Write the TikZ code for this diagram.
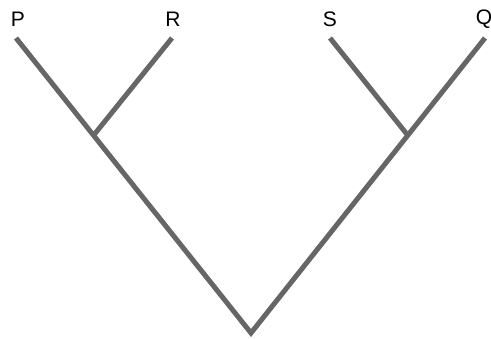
\documentclass[tikz,border=0pt]{standalone}
\usepackage{fontspec}
\setmainfont{Liberation Sans}
\usetikzlibrary{calc}
\begin{document}
\begin{tikzpicture}[x=1pt,y=-1pt,
  branch/.style={draw=black!60, line width=5pt, line cap=butt, line join=miter},
  lbl/.style={font=\fontsize{21}{21}\selectfont, inner sep=0pt}]
\useasboundingbox (0,0) rectangle (491,339);
\node[lbl] (P) at (18,19) {P};
\node[lbl] (R) at (173,19) {R};
\node[lbl] (S) at (330,19) {S};
\node[lbl] (Q) at (484,19) {Q};
\coordinate (p) at (16,38);
\coordinate (r) at (172,38);
\coordinate (s) at (330,38);
\coordinate (q) at (485,38);
\coordinate (root) at (251,333);
\coordinate (a) at ($(p)!0.33!(root)$);
\coordinate (b) at ($(q)!0.33!(root)$);
\draw[branch] (p) -- (root) -- (q);
\draw[branch] (r) -- (a);
\draw[branch] (s) -- (b);
\end{tikzpicture}
\end{document}
